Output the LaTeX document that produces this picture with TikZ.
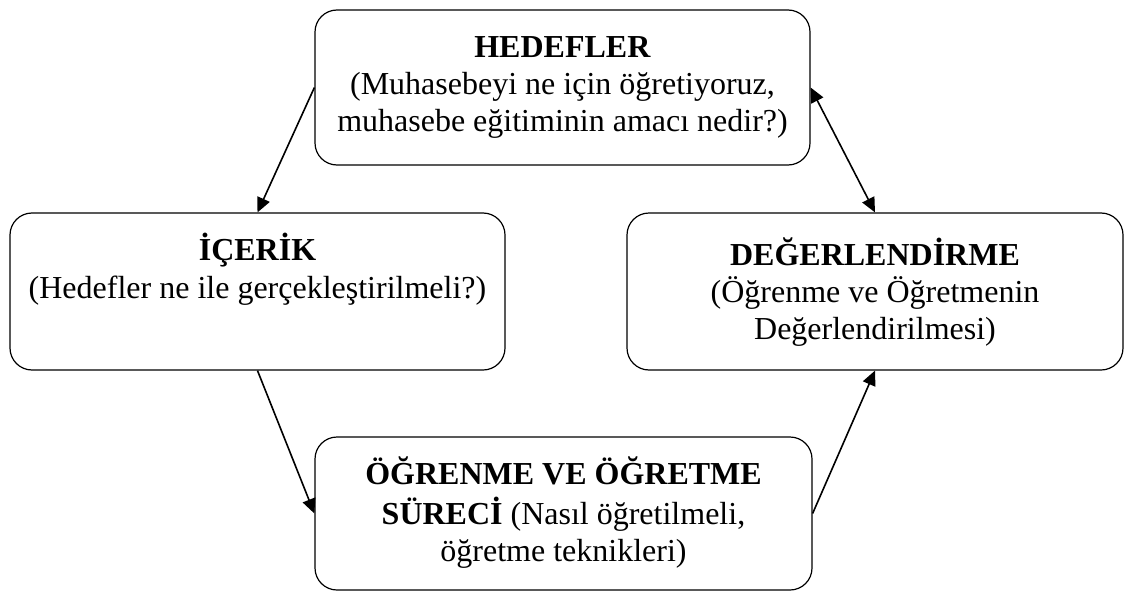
\documentclass[tikz,border=0pt]{standalone}
\usepackage{fontspec}
\setmainfont{Liberation Serif}
\usetikzlibrary{arrows.meta}

\tikzset{
  box/.style={draw=black, line width=0.9pt, rounded corners=16.5pt,
    rectangle, inner sep=0pt},
  boxtext/.style={anchor=north, align=center, inner sep=0pt,
    font=\fontsize{24}{28}\selectfont},
  link/.style={line width=1.2pt, -{Triangle[length=11pt,width=10pt]}},
  twoway/.style={line width=1.2pt, {Triangle[length=11pt,width=10pt]}-{Triangle[length=11pt,width=10pt]}}
}

\begin{document}
\begin{tikzpicture}[x=0.75pt, y=-0.75pt]
  \useasboundingbox (0,0) rectangle (1124,592);

  % the four stages of the cycle
  \node[box, minimum width=371.25pt, minimum height=116.25pt] (hed) at (562.5,87.5) {};
  \node[box, minimum width=371.25pt, minimum height=117.75pt] (ice) at (257.5,291.5) {};
  \node[box, minimum width=372pt, minimum height=117.75pt] (deg) at (875,291.5) {};
  \node[box, minimum width=372.75pt, minimum height=114.75pt] (ogr) at (563.5,513.5) {};

  % their texts, set from the top of each box
  \node[boxtext] (hedtxt) at ([yshift=-16pt]hed.north)
    {\strut\textbf{HEDEFLER}\\
     \strut(Muhasebeyi ne için öğretiyoruz,\\
     \strut muhasebe eğitiminin amacı nedir?)};
  \node[boxtext] (icetxt) at ([yshift=-15.5pt]ice.north)
    {\strut\textbf{İÇERİK}\\
     \strut(Hedefler ne ile gerçekleştirilmeli?)};
  \node[boxtext] (degtxt) at ([yshift=-18.5pt]deg.north)
    {\strut\textbf{DEĞERLENDİRME}\\
     \strut(Öğrenme ve Öğretmenin\\
     \strut Değerlendirilmesi)};
  \node[boxtext] (ogrtxt) at ([yshift=-15pt]ogr.north)
    {\strut\textbf{ÖĞRENME VE ÖĞRETME}\\
     \strut\textbf{SÜRECİ} (Nasıl öğretilmeli,\\
     \strut öğretme teknikleri)};

  % connectors
  \draw[link] (hed.west) -- (ice.north);
  \draw[link] (ice.south) -- (ogr.west);
  \draw[link] (ogr.east) -- (deg.south);
  \draw[twoway] (hed.east) -- (deg.north);
\end{tikzpicture}
\end{document}
